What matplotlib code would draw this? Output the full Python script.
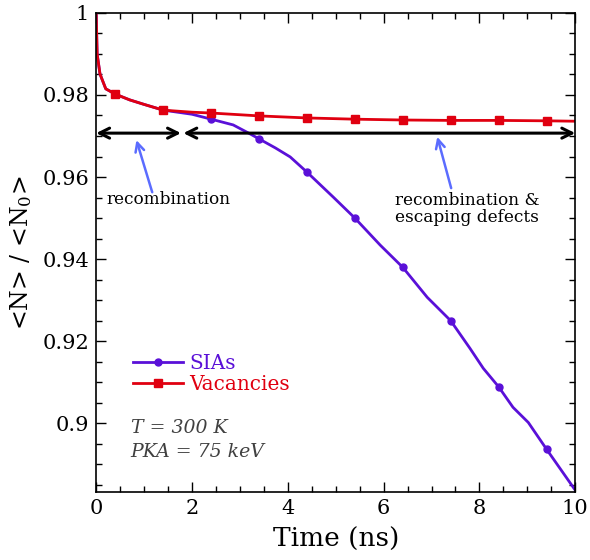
import matplotlib
matplotlib.use("Agg")
import matplotlib.pyplot as plt
from matplotlib.ticker import MultipleLocator

plt.rcParams["font.family"] = ["DejaVu Serif"]
plt.rcParams["mathtext.fontset"] = "dejavuserif"

# Vacancies
t_vac = [0, 0.02, 0.08, 0.2, 0.4, 0.7, 1.0, 1.4, 2.0, 2.4, 3.4, 4.4, 5.4, 6.4, 7.4, 8.4, 9.4, 10]
n_vac = [1.0, 0.990, 0.9851, 0.9815, 0.9802, 0.9788, 0.9777, 0.9763, 0.9758, 0.9756,
         0.9749, 0.9744, 0.9741, 0.9739, 0.9738, 0.9738, 0.9737, 0.9736]

# SIAs
t_sia = [0, 0.02, 0.08, 0.2, 0.4, 0.7, 1.0, 1.4, 2.0, 2.4, 2.86, 3.2, 3.4, 3.74, 4.05,
         4.4, 4.95, 5.4, 5.93, 6.4, 6.91, 7.4, 7.8, 8.08, 8.4, 8.7, 9.02, 9.4, 10]
n_sia = [1.0, 0.990, 0.9851, 0.9815, 0.9802, 0.9788, 0.9777, 0.9763, 0.9753, 0.9741,
         0.9727, 0.9706, 0.9693, 0.9671, 0.9649, 0.9612, 0.9551, 0.9500, 0.9434,
         0.9380, 0.9307, 0.9250, 0.9183, 0.9134, 0.9089, 0.9039, 0.9002, 0.8937, 0.8837]

marker_times = [0.4, 1.4, 2.4, 3.4, 4.4, 5.4, 6.4, 7.4, 8.4, 9.4]

c_sia = "#5a10d8"
c_vac = "#e00010"
c_note = "#5b6cff"

fig = plt.figure(figsize=(5.9, 5.6), dpi=100)
ax = fig.add_axes([0.163, 0.121, 0.812, 0.856])

ax.plot(t_sia, n_sia, color=c_sia, lw=2, marker="o", ms=5,
        markevery=[i for i, t in enumerate(t_sia) if t in marker_times], label="SIAs")
ax.plot(t_vac, n_vac, color=c_vac, lw=2, marker="s", ms=5.5,
        markevery=[i for i, t in enumerate(t_vac) if t in marker_times], label="Vacancies")

# double arrows
arrow_y = 0.9707
ax.annotate("", xy=(0.0, arrow_y), xytext=(1.77, arrow_y),
            arrowprops=dict(arrowstyle="<->", color="black", lw=2.2, mutation_scale=18,
                            shrinkA=0, shrinkB=0))
ax.annotate("", xy=(1.82, arrow_y), xytext=(10.0, arrow_y),
            arrowprops=dict(arrowstyle="<->", color="black", lw=2.2, mutation_scale=18,
                            shrinkA=0, shrinkB=0))

# annotation arrows
ax.annotate("", xy=(0.84, 0.9690), xytext=(1.17, 0.9563),
            arrowprops=dict(arrowstyle="->", color=c_note, lw=1.8, mutation_scale=16,
                            shrinkA=0, shrinkB=0))
ax.annotate("", xy=(7.12, 0.9698), xytext=(7.41, 0.9573),
            arrowprops=dict(arrowstyle="->", color=c_note, lw=1.8, mutation_scale=16,
                            shrinkA=0, shrinkB=0))

ax.text(0.21, 0.9545, "recombination", fontsize=12.2, ha="left", va="center")
ax.text(6.23, 0.9522, "recombination &\nescaping defects", fontsize=12.2,
        ha="left", va="center", linespacing=1.05)

ax.text(0.72, 0.8988, "T = 300 K", fontsize=13.6, style="italic", color="#404040",
        ha="left", va="center")
ax.text(0.72, 0.8930, "PKA = 75 keV", fontsize=13.6, style="italic", color="#404040",
        ha="left", va="center")

leg = ax.legend(loc="upper left", bbox_to_anchor=(0.06, 0.305), frameon=False,
                fontsize=14.4, handlelength=2.5, handletextpad=0.3, labelspacing=0.1,
                borderaxespad=0)
for txt, col in zip(leg.get_texts(), [c_sia, c_vac]):
    txt.set_color(col)

ax.set_xlim(0, 10)
ax.set_ylim(0.8832, 1.0)
ax.xaxis.set_major_locator(MultipleLocator(2))
ax.xaxis.set_minor_locator(MultipleLocator(0.5))
ax.yaxis.set_minor_locator(MultipleLocator(0.005))
ax.set_yticks([0.9, 0.92, 0.94, 0.96, 0.98, 1.0])
ax.set_yticklabels(["0.9", "0.92", "0.94", "0.96", "0.98", "1"])
ax.tick_params(which="both", direction="in", top=True, right=True, labelsize=15)
ax.tick_params(which="major", length=7, width=1, pad=5)
ax.tick_params(which="minor", length=4, width=1)
for s in ax.spines.values():
    s.set_linewidth(1.2)

ax.set_xlabel("Time (ns)", fontsize=19, labelpad=6)
ax.set_ylabel(r"<N> / <N$_0$>", fontsize=17, labelpad=6)

fig.savefig("out.png", dpi=100)
